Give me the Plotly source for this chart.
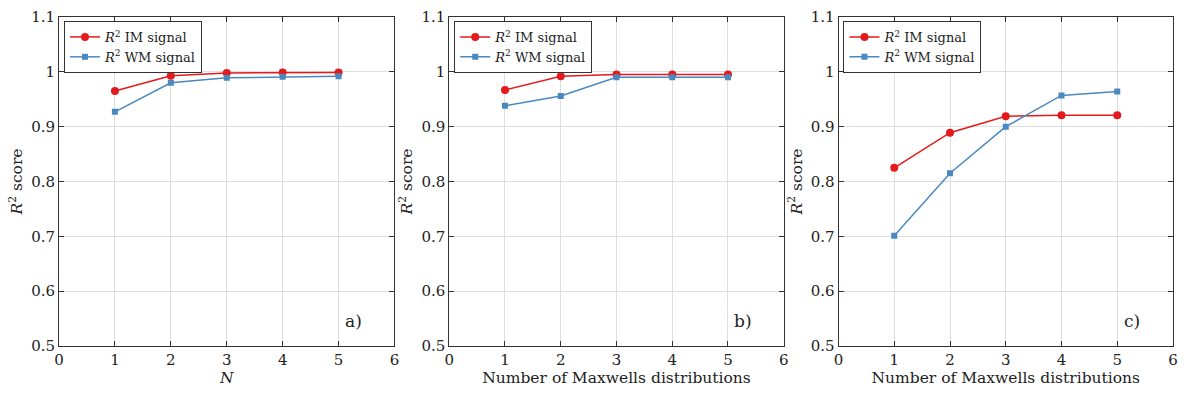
import plotly.graph_objects as go

# Number of components on the x axis
n_components = [1, 2, 3, 4, 5]

# R^2 scores per panel
im_a = [0.965, 0.993, 0.998, 0.999, 0.999]
wm_a = [0.927, 0.980, 0.989, 0.991, 0.992]

im_b = [0.967, 0.992, 0.995, 0.995, 0.995]
wm_b = [0.938, 0.956, 0.990, 0.990, 0.990]

im_c = [0.825, 0.889, 0.919, 0.921, 0.921]
wm_c = [0.701, 0.815, 0.900, 0.957, 0.964]

panel_tags = ["a)", "b)", "c)"]
x_titles = ["<i>N</i>", "Number of Maxwells distributions", "Number of Maxwells distributions"]

RED = "#E41A1C"
BLUE = "#4A88C0"
FONT = "DejaVu Serif"
AXIS_COLOR = "#333333"
GRID_COLOR = "#DEDEDE"
TEXT_COLOR = "#222222"

W, H = 1186, 396
ML, MR, MT, MB = 59, 8, 10, 50
PW = W - ML - MR
domains = [
    [0.0, 337 / PW],
    [(451 - ML) / PW, (787 - ML) / PW],
    [(842 - ML) / PW, 1.0],
]

fig = go.Figure()

series = [(im_a, wm_a), (im_b, wm_b), (im_c, wm_c)]
for i, (im, wm) in enumerate(series):
    sfx = "" if i == 0 else str(i + 1)
    legend_name = "legend" + sfx
    fig.add_trace(go.Scatter(
        x=n_components, y=im, mode="lines+markers",
        name="<i>R</i><sup>2</sup> IM signal",
        line=dict(color=RED, width=1.5),
        marker=dict(symbol="circle", size=8, color=RED),
        xaxis="x" + sfx, yaxis="y" + sfx, legend=legend_name,
    ))
    fig.add_trace(go.Scatter(
        x=n_components, y=wm, mode="lines+markers",
        name="<i>R</i><sup>2</sup> WM signal",
        line=dict(color=BLUE, width=1.5),
        marker=dict(symbol="square", size=6, color=BLUE),
        xaxis="x" + sfx, yaxis="y" + sfx, legend=legend_name,
    ))

layout = dict(
    width=W, height=H,
    margin=dict(l=ML, r=MR, t=MT, b=MB),
    paper_bgcolor="white", plot_bgcolor="white",
    font=dict(family=FONT, size=15, color=TEXT_COLOR),
)

for i in range(3):
    sfx = "" if i == 0 else str(i + 1)
    xa = dict(
        domain=domains[i], range=[0, 6], dtick=1, tick0=0,
        showgrid=True, gridcolor=GRID_COLOR, gridwidth=1,
        showline=True, linecolor=AXIS_COLOR, linewidth=1, mirror="allticks",
        ticks="inside", ticklen=5, tickcolor=AXIS_COLOR,
        zeroline=False, tickfont=dict(size=15),
        title=dict(text=x_titles[i], font=dict(size=15.5), standoff=2),
        anchor="y" + sfx,
    )
    ya = dict(
        domain=[0, 1], range=[0.5, 1.1],
        tickvals=[0.5, 0.6, 0.7, 0.8, 0.9, 1.0, 1.1],
        ticktext=["0.5", "0.6", "0.7", "0.8", "0.9", "1", "1.1"],
        showgrid=True, gridcolor=GRID_COLOR, gridwidth=1,
        showline=True, linecolor=AXIS_COLOR, linewidth=1, mirror="allticks",
        ticks="inside", ticklen=5, tickcolor=AXIS_COLOR,
        zeroline=False, tickfont=dict(size=15),
        title=dict(text="<i>R</i><sup>2</sup> score", font=dict(size=15.5), standoff=4),
        anchor="x" + sfx,
    )
    layout["xaxis" + sfx] = xa
    layout["yaxis" + sfx] = ya
    layout["legend" + sfx] = dict(
        x=domains[i][0] + 5 / PW, y=0.988, xanchor="left", yanchor="top",
        bgcolor="white", bordercolor=AXIS_COLOR, borderwidth=1,
        font=dict(family=FONT, size=13, color=TEXT_COLOR),
        tracegroupgap=0, itemwidth=30,
    )

fig.update_layout(**layout)

for i, tag in enumerate(panel_tags):
    sfx = "" if i == 0 else str(i + 1)
    fig.add_annotation(
        x=5.27, y=0.546, xref="x" + sfx, yref="y" + sfx,
        text=tag, showarrow=False, font=dict(family=FONT, size=17, color=TEXT_COLOR),
    )

fig.write_html("out.html")
